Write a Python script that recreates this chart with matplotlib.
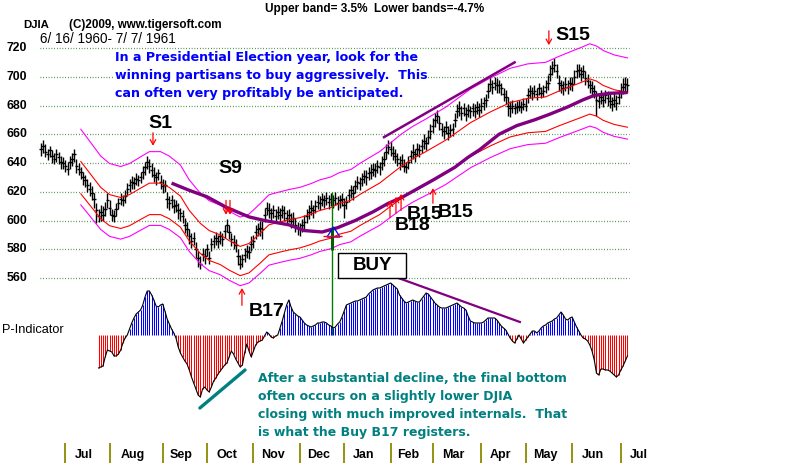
import matplotlib.pyplot as plt
import matplotlib.transforms as mtransforms
from matplotlib.patches import Rectangle, Polygon

W, H = 800, 465

# ---------------- data ----------------
months = ['Jul', 'Aug', 'Sep', 'Oct', 'Nov', 'Dec', 'Jan', 'Feb', 'Mar', 'Apr', 'May', 'Jun', 'Jul']
month_start = [11, 31, 55, 75, 96, 117, 137, 158, 177, 199, 219, 240, 262]
price_levels = [720, 700, 680, 660, 640, 620, 600, 580, 560]

# DJIA daily bars, 6/16/1960 - 7/7/1961 (trading day index 0..265)
close = [650, 652, 648, 646, 649, 645, 643, 646, 644, 641,
         640, 638, 636, 641, 643, 646, 638, 636, 634, 630,
         628, 625, 622, 619, 615, 607, 603, 606, 604, 608,
         614, 609, 604, 603, 608, 612, 615, 614, 617, 622,
         625, 627, 626, 629, 628, 630, 634, 637, 641, 638,
         635, 632, 630, 633, 627, 624, 625, 615, 612, 614,
         610, 611, 607, 605, 603, 597, 594, 589, 586, 588,
         580, 574, 570, 577, 575, 580, 574, 584, 586, 588,
         586, 589, 587, 593, 597, 592, 587, 585, 583, 575,
         570, 573, 576, 579, 578, 584, 586, 592, 594, 595,
         594, 604, 609, 607, 605, 607, 603, 606, 604, 607,
         605, 602, 604, 600, 602, 597, 595, 594, 597, 599,
         603, 606, 609, 607, 610, 613, 612, 615, 614, 616,
         613, 615, 614, 616, 612, 614, 615, 611, 613, 618,
         621, 619, 624, 627, 626, 629, 631, 630, 633, 634,
         636, 635, 638, 637, 640, 643, 648, 651, 650, 647,
         645, 643, 640, 642, 638, 637, 641, 645, 648, 646,
         650, 649, 652, 655, 654, 658, 662, 666, 670, 673,
         668, 664, 662, 665, 661, 663, 664, 670, 676, 678,
         675, 678, 674, 677, 676, 678, 676, 679, 677, 680,
         682, 684, 690, 695, 693, 696, 694, 694, 692, 688,
         686, 680, 678, 680, 678, 679, 680, 679, 681, 680,
         687, 690, 689, 690, 688, 692, 689, 690, 693, 696,
         702, 706, 708, 704, 696, 694, 692, 695, 693, 696,
         695, 700, 704, 705, 702, 704, 699, 697, 694, 692,
         690, 684, 683, 686, 684, 687, 685, 683, 681, 684,
         682, 686, 690, 693, 695, 694]
high = [654, 656, 653, 650, 652, 649, 647, 650, 648, 645,
        644, 642, 641, 645, 647, 650, 643, 640, 637, 634,
        632, 629, 627, 624, 619, 612, 608, 611, 610, 613,
        619, 614, 608, 607, 612, 616, 619, 618, 621, 626,
        629, 631, 630, 633, 632, 634, 638, 641, 645, 643,
        640, 637, 634, 636, 632, 629, 628, 620, 617, 618,
        615, 614, 612, 609, 607, 602, 599, 594, 591, 592,
        585, 579, 575, 581, 580, 584, 579, 588, 590, 592,
        590, 593, 591, 597, 601, 597, 591, 590, 587, 580,
        576, 577, 581, 583, 582, 589, 590, 597, 598, 600,
        600, 609, 613, 612, 609, 611, 608, 610, 609, 611,
        610, 607, 608, 605, 606, 602, 599, 598, 601, 604,
        608, 611, 614, 611, 614, 618, 617, 619, 618, 620,
        618, 619, 618, 620, 617, 618, 619, 616, 617, 622,
        625, 624, 628, 631, 630, 633, 635, 635, 637, 639,
        640, 640, 642, 641, 645, 648, 653, 656, 655, 652,
        650, 647, 645, 646, 643, 641, 645, 649, 653, 650,
        654, 653, 657, 660, 658, 663, 667, 671, 675, 677,
        673, 668, 666, 669, 666, 667, 668, 675, 681, 683,
        680, 682, 679, 681, 680, 682, 681, 683, 682, 685,
        686, 688, 696, 700, 698, 700, 699, 698, 696, 692,
        691, 686, 683, 684, 682, 683, 684, 683, 685, 685,
        692, 694, 693, 694, 692, 696, 693, 694, 698, 701,
        708, 711, 713, 709, 701, 698, 697, 700, 698, 700,
        700, 705, 709, 709, 707, 708, 704, 702, 698, 697,
        694, 690, 688, 691, 689, 691, 690, 688, 686, 689,
        687, 691, 696, 699, 700, 699]
low = [645, 647, 644, 642, 644, 640, 639, 641, 639, 636,
       636, 634, 632, 636, 638, 641, 633, 632, 629, 625,
       623, 620, 617, 614, 609, 598, 599, 600, 600, 603,
       609, 604, 600, 599, 603, 608, 611, 610, 612, 618,
       620, 622, 622, 625, 624, 626, 629, 632, 636, 633,
       630, 627, 625, 628, 622, 619, 620, 609, 607, 609,
       605, 606, 601, 600, 598, 591, 589, 584, 581, 583,
       574, 568, 566, 572, 570, 575, 570, 579, 581, 583,
       581, 584, 582, 588, 592, 587, 582, 580, 578, 569,
       566, 568, 571, 574, 573, 579, 581, 587, 589, 589,
       587, 599, 604, 602, 600, 602, 598, 601, 599, 602,
       600, 597, 599, 595, 597, 592, 590, 589, 592, 594,
       598, 601, 604, 602, 605, 608, 607, 610, 609, 611,
       608, 610, 609, 611, 607, 609, 610, 602, 608, 613,
       616, 614, 619, 622, 621, 624, 626, 625, 628, 629,
       631, 630, 633, 632, 635, 638, 643, 646, 645, 642,
       640, 638, 635, 637, 634, 633, 636, 640, 643, 641,
       645, 644, 647, 650, 649, 653, 657, 661, 665, 668,
       663, 659, 657, 660, 656, 658, 659, 665, 671, 673,
       670, 673, 669, 672, 671, 673, 671, 674, 672, 675,
       677, 679, 685, 690, 688, 691, 689, 689, 687, 683,
       681, 673, 672, 675, 674, 675, 676, 675, 677, 676,
       682, 685, 684, 686, 684, 687, 685, 686, 689, 691,
       697, 701, 703, 699, 690, 689, 687, 690, 688, 691,
       690, 695, 699, 700, 697, 699, 694, 692, 689, 687,
       685, 673, 678, 681, 679, 682, 680, 678, 676, 679,
       677, 681, 685, 688, 690, 689]

# 21-day moving average (red) and the bands around it
ma_idx = [18, 23, 27, 31, 36, 40, 45, 49, 54, 58, 63, 67, 72, 76, 81, 85, 90, 94,
          99, 103, 108, 112, 117, 122, 126, 131, 135, 140, 144, 149, 153, 158, 163,
          168, 174, 183, 194, 203, 212, 220, 228, 234, 239, 244, 248, 251, 254, 259, 265]
ma_val = [641, 631, 623, 618, 616, 618, 622.5, 626, 626, 623, 617, 607, 598, 593, 590,
          586, 582, 584, 591, 597, 599, 600.5, 602, 604.5, 607, 609, 612, 614, 618,
          622.5, 626, 632, 638, 643, 648, 656, 668, 675.5, 682, 685, 686, 690, 693,
          696, 698.5, 697, 694, 691, 689]
upper_pct = 3.5
inner_pct = -3.5
lower_pct = -4.7

# 50-day moving average (thick purple)
ma50_idx = [59, 67, 75, 84, 94, 101, 112, 119, 127, 134, 142, 150, 157, 163, 170,
            177, 187, 193, 198, 207, 215, 223, 230, 238, 245, 250, 257, 265]
ma50_val = [626, 621, 616.5, 609, 602.5, 600, 597, 593, 592, 595, 600, 606, 612, 616,
            622, 628, 637, 644, 649, 660, 666, 670, 674, 679, 684, 687, 688.5, 689]

# P-Indicator, starts at trading day 26
p_start = 26
p_ind = [-33, -32, -31, -22, -15, -16, -17, -21, -21, -19,
         -15, -8, -3, 0, 6, 12, 17, 21, 23, 25,
         30, 38, 44, 44, 40, 35, 29, 28, 30, 31,
         24, 16, 11, 6, 2, -3, -12, -18, -22, -26,
         -29, -35, -42, -48, -54, -60, -62, -54, -52, -55,
         -57, -52, -46, -43, -39, -36, -33, -30, -28, -22,
         -16, -19, -24, -28, -32, -30, -18, -9, -16, -22,
         -16, -10, -7, -6, -5, -1, 3, 1, -2, -3,
         -1, 0, 7, 14, 22, 30, 35, 28, 23, 21,
         19, 18, 15, 12, 10, 9, 8, 9, 10, 12,
         12, 13, 13, 12, 10, 9, 7, 8, 11, 13,
         18, 24, 30, 31, 32, 33, 34, 34, 35, 36,
         37, 38, 41, 43, 45, 46, 47, 47, 48, 49,
         50, 51, 52, 50, 48, 46, 40, 37, 34, 32,
         33, 34, 35, 34, 33, 33, 36, 39, 42, 41,
         38, 35, 32, 30, 28, 27, 27, 27, 28, 29,
         30, 31, 32, 30, 28, 27, 25, 19, 14, 13,
         12, 12, 12, 12, 13, 15, 17, 17, 17, 17,
         15, 12, 9, 7, 5, 1, -3, -6, -8, -4,
         0, -4, -8, -5, -2, 1, 4, 4, 2, 4,
         7, 9, 10, 12, 13, 14, 16, 17, 20, 23,
         20, 16, 15, 17, 18, 13, 8, 4, 0, -3,
         -4, -6, -10, -16, -25, -38, -40, -34, -34, -35,
         -35, -36, -38, -40, -42, -40, -35, -31, -26, -21]

# hand drawn trend lines
price_trend_idx = [155, 214]
price_trend_val = [658, 710]
p_trend_idx = [157.7, 216.4]
p_trend_val = [60, 13]
p_teal_idx = [71.8, 92.2]
p_teal_val = [-73, -35]

# signal arrows (index, tail, tip)
sig_arrows = [(50.6, 661, 652), (83.6, 614, 604), (85.4, 614, 604), (229.5, 732, 722),
              (90.8, 541, 553), (157.7, 602, 614), (160.4, 605, 616.5), (162.7, 607, 618.5),
              (177.1, 612, 622.5)]
buy_idx = 131.5

# ---------------- layout helpers ----------------
PX0, PXS = 41, 2.213          # pixel of day 0, pixels per day
XLIM = (-PX0 / PXS, (W - PX0) / PXS)
PPY = 1.4375                  # pixels per DJIA point
FONT = 'Liberation Sans'
HEAVY = 'DejaVu Sans'


def T(x, y, s, **kw):
    kw.setdefault('family', FONT)
    kw.setdefault('va', 'center')
    return fig.text(x / W, 1 - y / H, s, **kw)


def fit(texts, width):
    # scale a group of texts so the first one spans `width` pixels
    r = fig.canvas.get_renderer()
    w = texts[0].get_window_extent(renderer=r).width
    for t in texts:
        t.set_fontsize(t.get_fontsize() * width / w)


fig = plt.figure(figsize=(W / 100, H / 100), dpi=100)
fig.patch.set_facecolor('white')

# price panel
ax = fig.add_axes([0, 0, 1, 1])
ax.set_xlim(*XLIM)
ax.set_ylim(720 - (H - 48) / PPY, 720 + 48 / PPY)
ax.axis('off')

ax.hlines(price_levels, -0.5, 265.5, colors='#1a7a1a', linestyles=(0, (0.6, 1.6)), lw=0.9, zorder=1)

idx = list(range(len(close)))
ax.vlines(idx, low, high, color='black', lw=1.0, zorder=3)
ax.hlines(close, [i - 0.8 for i in idx], [i + 0.8 for i in idx], color='black', lw=1.0, zorder=3)

up_band = [v * (1 + upper_pct / 100) for v in ma_val]
in_band = [v * (1 + inner_pct / 100) for v in ma_val]
lo_band = [v * (1 + lower_pct / 100) for v in ma_val]
ax.plot(ma_idx, up_band, color='#ff00ff', lw=0.8, zorder=4)
ax.plot(ma_idx, lo_band, color='#ff00ff', lw=0.8, zorder=4)
ax.plot(ma_idx, in_band, color='#ff0000', lw=0.8, zorder=4)
ax.plot(ma_idx, ma_val, color='#ff0000', lw=0.8, zorder=4)
ax.plot(ma50_idx, ma50_val, color='#800080', lw=2.4, zorder=5, solid_capstyle='butt')
ax.plot(price_trend_idx, price_trend_val, color='#800080', lw=1.8, zorder=5)

for i, y0, y1 in sig_arrows:
    ax.annotate('', xy=(i, y1), xytext=(i, y0),
                arrowprops=dict(arrowstyle='->,head_length=0.35,head_width=0.2',
                                color='red', lw=0.9, shrinkA=0, shrinkB=0), zorder=6)

# BUY marker
ax.vlines(buy_idx, 520.3, 619.8, color='#008000', lw=1.0, zorder=6)
ax.vlines(buy_idx, 579.5, 594.8, color='#006000', lw=2.2, zorder=6)
ax.add_patch(Polygon([(129.2, 588.5), (135.1, 588.5), (132.2, 595.5)], closed=True,
                     fill=False, edgecolor='#0000ff', lw=0.9, zorder=7))
ax.hlines(589.5, 127.6, 136.0, color='red', lw=1.0, zorder=7)

ytr = mtransforms.blended_transform_factory(fig.transFigure, ax.transData)
for lv in price_levels:
    ax.text(27 / W, lv, str(lv), transform=ytr, ha='right', va='center',
            family=FONT, fontsize=8.8, fontweight='bold')

# P-Indicator panel
pax = fig.add_axes([0, 0, 1, 1])
pax.patch.set_alpha(0)
pax.set_xlim(*XLIM)
pax.set_ylim(335 - H, 335)
pax.axis('off')
pidx = [p_start + k for k in range(len(p_ind))]
cols = ['#0000ff' if v > 0 else '#ff0000' for v in p_ind]
pax.vlines(pidx, 0, p_ind, colors=cols, lw=0.75, zorder=2)
pax.plot(pidx, p_ind, color='black', lw=0.8, zorder=3)
pax.plot(p_trend_idx, p_trend_val, color='#800080', lw=1.6, zorder=4)
pax.plot(p_teal_idx, p_teal_val, color='#008080', lw=2.4, zorder=4, solid_capstyle='round')

# month axis
max_ = fig.add_axes([0, 0, 1, 25 / H])
max_.patch.set_alpha(0)
max_.set_xlim(*XLIM)
max_.set_ylim(465, 440)
max_.axis('off')
max_.vlines(month_start, 443, 463, colors='#8a8a00', lw=1.3)
for k, m in enumerate(months):
    if k < len(months) - 1:
        mid = (month_start[k] + month_start[k + 1]) / 2 - 1.5
    else:
        mid = month_start[k] + 8
    max_.text(mid, 455, m, ha='center', va='center', family=FONT,
              fontsize=9, fontweight='bold')

# ---------------- texts ----------------
T(265, 9, 'Upper band= 3.5%  Lower bands=-4.7%', fontsize=8.5, fontweight='bold')
T(23, 25, 'DJIA', fontsize=8.2, fontweight='bold')
T(69, 25, '(C)2009, www.tigersoft.com', fontsize=8.4, fontweight='bold')
fit([T(40, 39, '6/ 16/ 1960- 7/ 7/ 1961', fontsize=9.3)], 137)
T(2, 330, 'P-Indicator', fontsize=9.2)

blue_lines = ['In a Presidential Election year, look for the',
              'winning partisans to buy aggressively.  This',
              'can often very profitably be anticipated.']
bt = [T(115, 58 + 18 * k, s, family=HEAVY, fontsize=9.5, fontweight='bold', color='#0000ff',
        bbox=dict(facecolor='white', edgecolor='none', pad=0.6))
      for k, s in enumerate(blue_lines)]
fit(bt, 307)

teal_lines = ['After a substantial decline, the final bottom',
              'often occurs on a slightly lower DJIA',
              'closing with much improved internals.  That',
              'is what the Buy B17 registers.']
tt = [T(258, 378 + 18.3 * k, s, family=HEAVY, fontsize=9.5, fontweight='bold', color='#008080')
      for k, s in enumerate(teal_lines)]
fit(tt, 313)

for x, y, s in [(148, 124, 'S1'), (218, 168, 'S9'), (555, 35, 'S15'), (249, 311, 'B17'),
                (395, 225, 'B18'), (407, 214, 'B15'), (438, 212, 'B15')]:
    T(x, y, s, fontsize=14, fontweight='bold')

fig.add_artist(Rectangle((338 / W, 1 - 278 / H), 68 / W, 25 / H, transform=fig.transFigure,
                         facecolor='white', edgecolor='black', lw=1.0, zorder=5))
T(372, 266, 'BUY', fontsize=13.5, fontweight='bold', ha='center', zorder=6)

fig.savefig('out.png', dpi=100)
